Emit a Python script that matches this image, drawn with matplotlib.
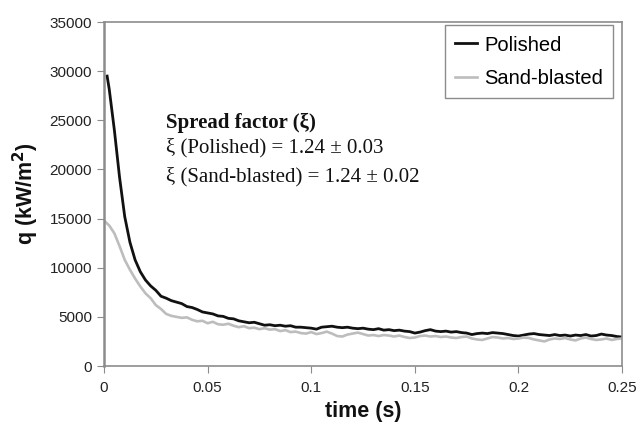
import numpy as np
import matplotlib
matplotlib.use("Agg")
from matplotlib import pyplot as plt

# heat flux, kW/m^2
step = 0.0025
pol_start_t = 0.0015
pol_start_q = 29500
polished = [28200, 24000, 19200, 15200, 12600, 10800, 9600, 8750, 8150, 7700,
            7100, 6900, 6650, 6500, 6350, 6050, 5950, 5750, 5500, 5400,
            5300, 5100, 5050, 4850, 4800, 4600, 4500, 4400, 4450, 4300,
            4150, 4200, 4100, 4150, 4050, 4100, 3950, 3950, 3900, 3850,
            3750, 3950, 4000, 4050, 3950, 3900, 3950, 3850, 3800, 3850,
            3750, 3700, 3800, 3650, 3700, 3600, 3650, 3550, 3500, 3350,
            3450, 3600, 3700, 3550, 3500, 3550, 3450, 3500, 3400, 3350,
            3200, 3300, 3350, 3300, 3400, 3350, 3300, 3200, 3100, 3050,
            3150, 3250, 3300, 3200, 3150, 3100, 3200, 3100, 3150, 3050,
            3150, 3100, 3200, 3050, 3100, 3250, 3150, 3100, 3000, 2950]
sandblasted = [14800, 14300, 13500, 12200, 10800, 9800, 8900, 8100, 7400, 6900,
               6200, 5800, 5300, 5100, 5000, 4900, 4950, 4700, 4550, 4600,
               4350, 4500, 4250, 4200, 4300, 4100, 3950, 4050, 3850, 3900,
               3750, 3850, 3700, 3750, 3550, 3650, 3450, 3500, 3350, 3300,
               3450, 3250, 3350, 3500, 3300, 3050, 3000, 3200, 3300, 3400,
               3250, 3100, 3150, 3050, 3150, 3100, 3000, 3100, 2950, 2850,
               2900, 3050, 3100, 3000, 3050, 2950, 3000, 2900, 2850, 2950,
               3000, 2800, 2700, 2650, 2800, 2950, 2900, 2800, 2850, 2750,
               2800, 2900, 2850, 2700, 2600, 2500, 2700, 2800, 2750, 2850,
               2700, 2600, 2800, 2900, 2750, 2650, 2700, 2800, 2650, 2750,
               2800]

t_sand = np.arange(len(sandblasted)) * step
t_pol = np.concatenate([[pol_start_t], np.arange(1, len(polished) + 1) * step])
q_pol = [pol_start_q] + polished

plt.rcParams["font.family"] = "Liberation Sans"

fig = plt.figure(figsize=(6.44, 4.25), dpi=100)
ax = fig.add_axes([0.1615, 0.1388, 0.8045, 0.8094])

ax.plot(t_pol, q_pol, color="#111111", lw=2.0, label="Polished")
ax.plot(t_sand, sandblasted, color="#bdbdbd", lw=1.9, label="Sand-blasted")

ax.set_xlim(0, 0.25)
ax.set_ylim(0, 35000)
ax.set_xticks([0, 0.05, 0.1, 0.15, 0.2, 0.25])
ax.set_xticklabels(["0", "0.05", "0.1", "0.15", "0.2", "0.25"])
ax.set_yticks(np.arange(0, 35001, 5000))
for s in ax.spines.values():
    s.set_color("#8c8c8c")
    s.set_linewidth(1.2)
ax.spines["left"].set_linewidth(1.8)
ax.tick_params(direction="out", length=5, color="#8c8c8c", labelsize=11,
               labelcolor="#222222")
ax.tick_params(axis="x", pad=6)

ax.set_xlabel("time (s)", fontsize=15.5, fontweight="bold", color="#111111", labelpad=4)
ax.set_ylabel("q (kW/m$^\\mathbf{2}$)", fontsize=15.5, fontweight="bold",
              color="#111111", labelpad=6)

ax.text(0.0298, 24700, "Spread factor (ξ)", family="Liberation Serif", fontsize=15,
        fontweight="bold", va="center", color="#111111")
ax.text(0.0298, 22200, "ξ (Polished) = 1.24 ± 0.03", family="Liberation Serif",
        fontsize=15, va="center", color="#111111")
ax.text(0.0298, 19300, "ξ (Sand-blasted) = 1.24 ± 0.02", family="Liberation Serif",
        fontsize=15, va="center", color="#111111")

leg = ax.legend(loc="upper right", bbox_to_anchor=(0.983, 0.99), borderaxespad=0,
                fancybox=False, framealpha=1, edgecolor="#8c8c8c", handlelength=1.1,
                handletextpad=0.35, borderpad=0.5, labelspacing=0.7,
                prop={"size": 14.5})
leg.get_frame().set_linewidth(1.0)

fig.savefig("out.png", dpi=100)
